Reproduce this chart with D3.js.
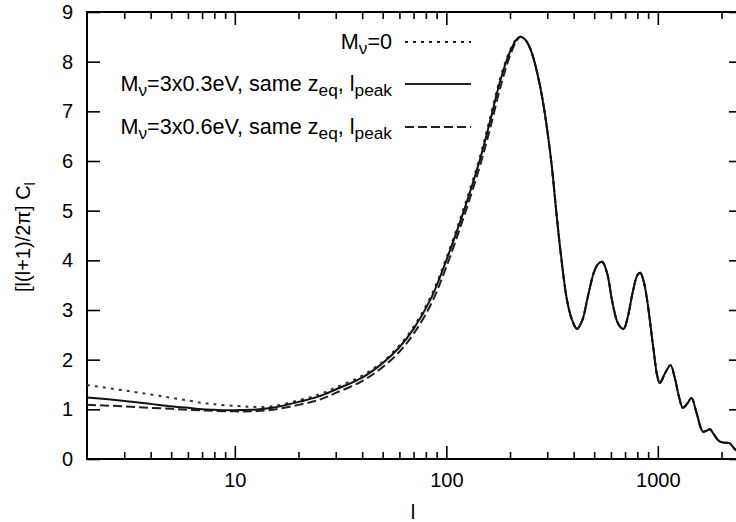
<!DOCTYPE html>
<html>
<head>
<meta charset="utf-8">
<script src="https://cdn.jsdelivr.net/npm/d3@7"></script>
<style>
  body { margin: 0; background: #fff; }
  svg { display: block; font-family: "Liberation Sans", Arial, Helvetica, sans-serif; }
</style>
</head>
<body>
<svg id="chart" width="736" height="522"></svg>
<script>
// ---- data ----
const ell = [2,3,4,5,6,7,8,10,12,15,20,25,30,40,50,60,70,85,100,120,144,161,180,200,215,224,235,250,278,310,333,346,372,393,415,440,463,497,520,545,575,610,650,689,720,760,800,826,860,890,955,995,1022,1080,1148,1200,1260,1313,1380,1443,1520,1633,1700,1763,1850,1950,2050,2180,2310,2450];

const clMnu0 = [1.49,1.38,1.30,1.23,1.18,1.13,1.10,1.07,1.05,1.06,1.18,1.30,1.44,1.68,1.96,2.29,2.66,3.30,4.05,5.01,6.08,6.87,7.68,8.23,8.46,8.50,8.45,8.25,7.49,6.16,4.87,4.21,3.20,2.80,2.62,2.80,3.20,3.74,3.92,3.97,3.75,3.15,2.72,2.62,2.85,3.35,3.70,3.75,3.55,3.20,2.19,1.66,1.53,1.72,1.89,1.65,1.25,1.03,1.12,1.23,0.95,0.55,0.57,0.60,0.48,0.36,0.33,0.32,0.20,0.12];

const clMnu03 = [1.24,1.17,1.11,1.06,1.03,1.00,0.99,0.98,0.99,1.03,1.15,1.26,1.40,1.64,1.93,2.25,2.62,3.25,4.00,4.95,6.02,6.80,7.62,8.20,8.45,8.50,8.45,8.25,7.49,6.16,4.87,4.21,3.20,2.80,2.62,2.80,3.20,3.74,3.92,3.97,3.75,3.15,2.72,2.62,2.85,3.35,3.70,3.75,3.55,3.20,2.19,1.66,1.53,1.72,1.89,1.65,1.25,1.03,1.12,1.23,0.95,0.55,0.57,0.60,0.48,0.36,0.33,0.32,0.20,0.12];

const clMnu06 = [1.09,1.06,1.03,1.01,0.99,0.98,0.97,0.96,0.96,0.99,1.09,1.19,1.33,1.57,1.85,2.16,2.52,3.13,3.87,4.83,5.89,6.65,7.48,8.12,8.42,8.50,8.45,8.25,7.49,6.16,4.87,4.21,3.20,2.80,2.62,2.80,3.20,3.74,3.92,3.97,3.75,3.15,2.72,2.62,2.85,3.35,3.70,3.75,3.55,3.20,2.19,1.66,1.53,1.72,1.89,1.65,1.25,1.03,1.12,1.23,0.95,0.55,0.57,0.60,0.48,0.36,0.33,0.32,0.20,0.12];

const xMajorTicks = [10, 100, 1000];
const xMinorTicks = [3,4,5,6,7,8,9,20,30,40,50,60,70,80,90,200,300,400,500,600,700,800,900,2000];
const yTicks = [0,1,2,3,4,5,6,7,8,9];

// ---- layout ----
const L = 87, R = 742, T = 12, B = 459;
const svg = d3.select("#chart");
const x = d3.scaleLog().domain([2, 2500]).range([L, R]);
const y = d3.scaleLinear().domain([0, 9]).range([B, T]);
const FS = 20;
const LFS = 21.6;

// ticks
function styleAxis(g) {
  g.select(".domain").remove();
  g.selectAll(".tick line").attr("stroke", "#000").attr("stroke-width", 1.6);
  g.selectAll(".tick text").attr("fill", "#000").attr("font-size", FS).attr("font-family", null);
}
svg.append("g").attr("transform", `translate(0,${B})`)
  .call(d3.axisBottom(x).tickValues(xMajorTicks).tickSize(-13).tickPadding(14).tickFormat(d3.format("d")))
  .call(styleAxis);
svg.append("g").attr("transform", `translate(0,${B})`)
  .call(d3.axisBottom(x).tickValues(xMinorTicks).tickSize(-7).tickFormat(""))
  .call(styleAxis);
svg.append("g").attr("transform", `translate(0,${T})`)
  .call(d3.axisTop(x).tickValues(xMajorTicks).tickSize(-13).tickFormat(""))
  .call(styleAxis);
svg.append("g").attr("transform", `translate(0,${T})`)
  .call(d3.axisTop(x).tickValues(xMinorTicks).tickSize(-7).tickFormat(""))
  .call(styleAxis);
svg.append("g").attr("transform", `translate(${L},0)`)
  .call(d3.axisLeft(y).tickValues(yTicks).tickSize(-13).tickPadding(14).tickFormat(d3.format("d")))
  .call(styleAxis);
svg.append("g").attr("transform", `translate(${R},0)`)
  .call(d3.axisRight(y).tickValues(yTicks).tickSize(-13).tickFormat(""))
  .call(styleAxis);

// frame
svg.append("rect").attr("x", L).attr("y", T).attr("width", R - L).attr("height", B - T)
  .attr("fill", "none").attr("stroke", "#000").attr("stroke-width", 2);

// curves
const series = [
  { vals: clMnu0,  dash: "3,5", width: 2, color: "#333" },
  { vals: clMnu06, dash: "9,4", width: 2, color: "#222" },
  { vals: clMnu03, dash: null,  width: 2, color: "#111" }
];
const line = d3.line().x(d => x(d[0])).y(d => y(d[1])).curve(d3.curveCatmullRom.alpha(0.5));
const clip = svg.append("clipPath").attr("id", "clip").append("rect")
  .attr("x", L).attr("y", T).attr("width", R - L).attr("height", B - T);
series.forEach(s => {
  svg.append("path")
    .attr("clip-path", "url(#clip)")
    .attr("d", line(ell.map((l, i) => [l, s.vals[i]])))
    .attr("fill", "none").attr("stroke", s.color).attr("stroke-width", s.width)
    .attr("stroke-dasharray", s.dash);
});

// legend
const legend = [
  { parts: [["M",0],["ν",1],["=0",0]], y: 42, dash: "3,5" },
  { parts: [["M",0],["ν",1],["=3x0.3eV, same z",0],["eq",1],[", l",0],["peak",1]], y: 84, dash: null },
  { parts: [["M",0],["ν",1],["=3x0.6eV, same z",0],["eq",1],[", l",0],["peak",1]], y: 127, dash: "9,4" }
];
legend.forEach(item => {
  const t = svg.append("text").attr("x", 392).attr("y", item.y + 7)
    .attr("text-anchor", "end").attr("font-size", LFS).attr("fill", "#000");
  let sub = false;
  item.parts.forEach(([str, isSub]) => {
    const ts = t.append("tspan").text(str);
    if (isSub && !sub) { ts.attr("dy", 5).attr("font-size", LFS * 0.8); sub = true; }
    else if (isSub) { ts.attr("font-size", LFS * 0.8); }
    else if (!isSub && sub) { ts.attr("dy", -5); sub = false; }
  });
  svg.append("line").attr("x1", 405).attr("x2", 471).attr("y1", item.y).attr("y2", item.y)
    .attr("stroke", "#222").attr("stroke-width", 2).attr("stroke-dasharray", item.dash);
});

// axis labels
svg.append("text").attr("x", 413).attr("y", 519).attr("text-anchor", "middle")
  .attr("font-size", FS).attr("fill", "#000").text("l");
const yl = svg.append("text").attr("transform", "translate(30,237) rotate(-90)")
  .attr("text-anchor", "middle").attr("font-size", FS).attr("fill", "#000");
yl.append("tspan").text("[l(l+1)/2π] C");
yl.append("tspan").attr("dy", 5).attr("font-size", FS * 0.75).text("l");
</script>
</body>
</html>
